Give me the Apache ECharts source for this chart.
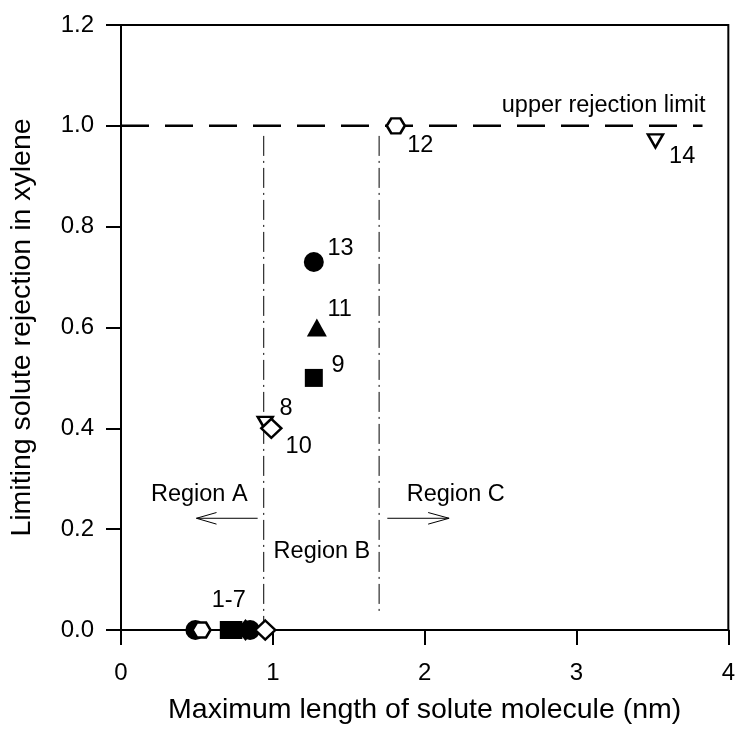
<!DOCTYPE html>
<html>
<head>
<meta charset="utf-8">
<script src="https://cdn.jsdelivr.net/npm/echarts@6/dist/echarts.min.js"></script>
<style>
html,body{margin:0;padding:0;background:#fff;}
#chart{width:738px;height:730px;}
</style>
</head>
<body>
<div id="chart"></div>
<script>
// ---- data (x = max length of solute molecule in nm, y = limiting rejection) ----
const filledCircle   = [[0.49, 0], [0.85, 0], [1.27, 0.73]];
const filledSquare   = [[0.71, 0], [0.74, 0], [1.27, 0.50]];
const filledDiamond  = [[0.82, 0]];
const filledTriangle = [[1.29, 0.60]];
const openHexagon    = [[0.53, 0], [1.81, 1.00]];
const openTriDown    = [[0.95, 0.41], [3.52, 0.97]];
const openDiamond    = [[0.95, 0], [0.99, 0.40]];

const upperLimit     = [[0, 1.0], [3.83, 1.0]];
const boundaryAB     = [[0.94, 0.98], [0.94, 0]];
const boundaryBC     = [[1.70, 0.98], [1.70, 0.032]];

const arrowAShaft    = [[0.90, 0.2216], [0.497, 0.2216]];
const arrowAHead     = [[0.629, 0.233], [0.497, 0.2216], [0.629, 0.210]];
const arrowCShaft    = [[1.754, 0.2216], [2.161, 0.2216]];
const arrowCHead     = [[2.023, 0.233], [2.161, 0.2216], [2.023, 0.210]];

const pointLabels = [
  [1.36, 0.756, '13'], [1.36, 0.635, '11'], [1.386, 0.525, '9'],
  [1.044, 0.44, '8'], [1.084, 0.363, '10'], [1.885, 0.961, '12'],
  [3.61, 0.939, '14'], [0.598, 0.059, '1-7'],
  [0.197, 0.268, 'Region A'], [1.005, 0.156, 'Region B'], [1.882, 0.268, 'Region C']
];
const rightLabels = [[3.85, 1.04, 'upper rejection limit']];

const xTicks = [0, 1, 2, 3, 4];
const yTicks = [0.0, 0.2, 0.4, 0.6, 0.8, 1.0, 1.2];

// ---- chart ----
const FONT = '"Liberation Sans", Arial, sans-serif';
const hexPath = 'path://M-1,0 L-0.5,-0.866 L0.5,-0.866 L1,0 L0.5,0.866 L-0.5,0.866 Z';
const filled = {color: '#000', opacity: 1};
const open = {color: '#fff', borderColor: '#000', borderWidth: 2.5, opacity: 1};

function thinLine(data, type, width) {
  return {type: 'line', data: data, symbol: 'none', silent: true, z: 1,
          lineStyle: {color: '#000', width: width, type: type, opacity: 1}, animation: false};
}
function marks(data, symbol, size, style, z, extra) {
  return Object.assign({type: 'scatter', data: data, symbol: symbol, symbolSize: size,
    itemStyle: style, z: z, clip: false, silent: true,
    emphasis: {disabled: true}}, extra || {});
}

const chart = echarts.init(document.getElementById('chart'), null, {renderer: 'canvas'});
chart.setOption({
  animation: false,
  backgroundColor: '#fff',
  grid: {left: 121, right: 8, top: 25, bottom: 97, show: true, borderColor: '#000', borderWidth: 2},
  xAxis: {
    type: 'value', min: xTicks[0], max: xTicks[xTicks.length - 1], interval: 1,
    name: 'Maximum length of solute molecule (nm)', nameLocation: 'middle', nameGap: 66,
    nameTextStyle: {fontFamily: FONT, fontSize: 28.5, color: '#000'},
    axisLine: {lineStyle: {color: '#000', width: 2}},
    axisTick: {inside: false, length: 15, lineStyle: {color: '#000', width: 2}},
    axisLabel: {fontFamily: FONT, fontSize: 24, color: '#000', margin: 31},
    splitLine: {show: false}
  },
  yAxis: {
    type: 'value', min: yTicks[0], max: yTicks[yTicks.length - 1], interval: 0.2,
    name: 'Limiting solute rejection in xylene', nameLocation: 'middle', nameGap: 84,
    nameTextStyle: {fontFamily: FONT, fontSize: 28.5, color: '#000'},
    axisLine: {lineStyle: {color: '#000', width: 2}},
    axisTick: {inside: false, length: 15, lineStyle: {color: '#000', width: 2}},
    axisLabel: {fontFamily: FONT, fontSize: 24, color: '#000', margin: 27,
                formatter: v => v.toFixed(1)},
    splitLine: {show: false}
  },
  series: [
    thinLine(upperLimit, [28, 16], 2.5),
    thinLine(boundaryAB, [20, 5, 2, 5], 1),
    thinLine(boundaryBC, [20, 5, 2, 5], 1),
    thinLine(arrowAShaft, 'solid', 1),
    thinLine(arrowAHead, 'solid', 1),
    thinLine(arrowCShaft, 'solid', 1),
    thinLine(arrowCHead, 'solid', 1),
    marks(filledCircle, 'circle', 20, filled, 3),
    marks(filledSquare, 'rect', 18, filled, 3),
    marks(filledDiamond, 'diamond', [18, 22], filled, 3),
    marks(filledTriangle, 'triangle', [20, 18], filled, 3),
    marks(openTriDown, 'triangle', [15, 13], open, 3, {symbolRotate: 180}),
    marks(openHexagon, hexPath, [18, 15], open, 4),
    marks(openDiamond, 'diamond', [20, 19], open, 4),
    marks(pointLabels, 'circle', 0, {opacity: 0}, 5, {
      label: {show: true, position: [0, 0], align: 'left', verticalAlign: 'middle', opacity: 1,
              fontFamily: FONT, fontSize: 23.5, color: '#000', formatter: p => p.data[2]}}),
    marks(rightLabels, 'circle', 0, {opacity: 0}, 5, {
      label: {show: true, position: [0, 0], align: 'right', verticalAlign: 'middle', opacity: 1,
              fontFamily: FONT, fontSize: 23.5, color: '#000', formatter: p => p.data[2]}})
  ]
});
</script>
</body>
</html>
